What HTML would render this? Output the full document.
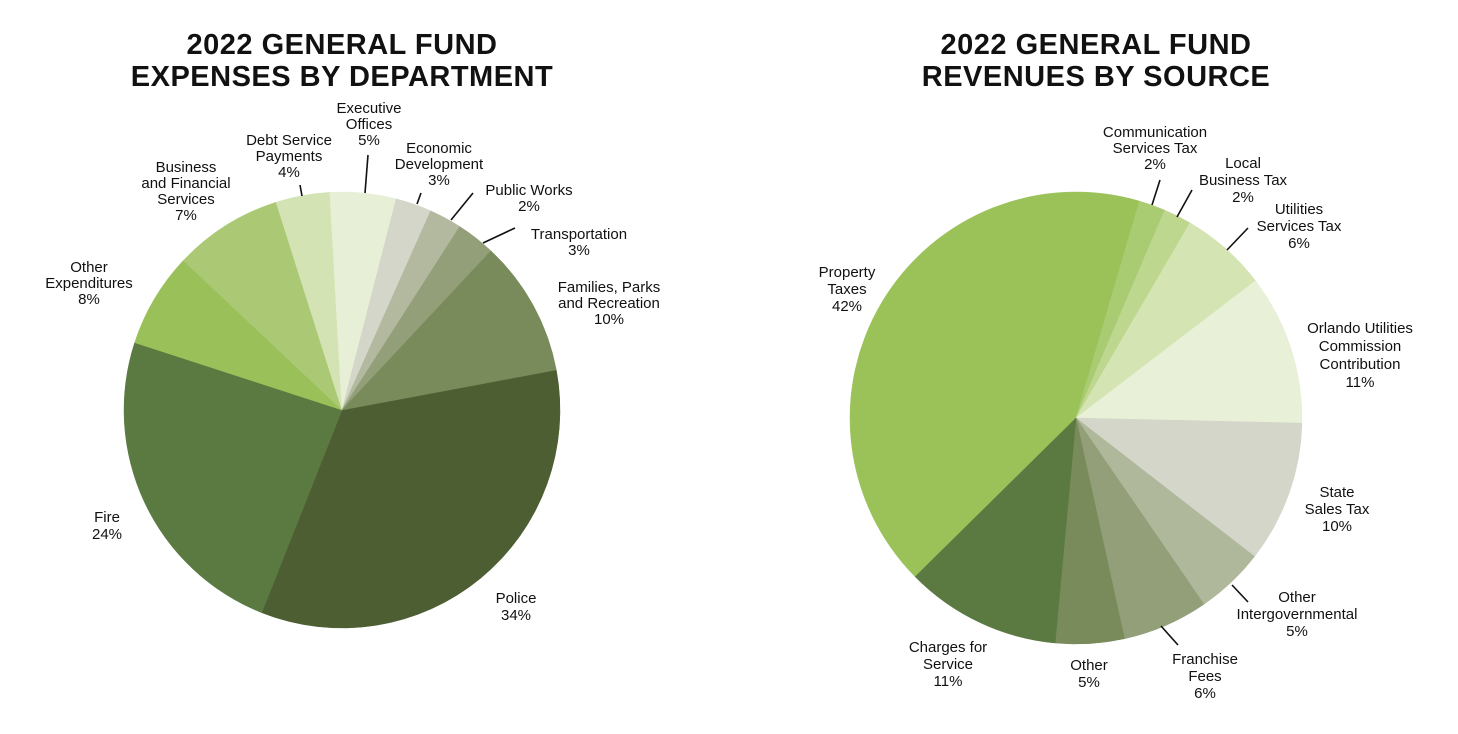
<!DOCTYPE html>
<html><head><meta charset="utf-8"><style>
html,body{margin:0;padding:0;background:#fff;}
svg{display:block;}
text{font-family:"Liberation Sans",sans-serif;font-size:15px;fill:#111;}
.t{font-size:29px;font-weight:bold;letter-spacing:0.5px;}
</style></head><body>
<svg id="s" width="1458" height="734" viewBox="0 0 1458 734" xmlns="http://www.w3.org/2000/svg">
<g id="pies"></g>
<g stroke="#111" stroke-width="1.6">
<line x1="300" y1="185" x2="302" y2="196"/>
<line x1="368" y1="155" x2="365" y2="193"/>
<line x1="421" y1="193" x2="417" y2="204"/>
<line x1="473" y1="193" x2="451" y2="220"/>
<line x1="515" y1="228" x2="483" y2="243"/>
<line x1="1160" y1="180" x2="1152" y2="205"/>
<line x1="1192" y1="190" x2="1177" y2="217"/>
<line x1="1248" y1="228" x2="1227" y2="250"/>
<line x1="1232" y1="585" x2="1248" y2="602"/>
<line x1="1161" y1="626" x2="1178" y2="645"/>
</g>
<g text-anchor="middle">
<text class="t" x="342" y="54">2022 GENERAL FUND</text>
<text class="t" x="342" y="86">EXPENSES BY DEPARTMENT</text>
<text class="t" x="1096" y="54">2022 GENERAL FUND</text>
<text class="t" x="1096" y="86">REVENUES BY SOURCE</text>

<text x="369" y="113">Executive</text><text x="369" y="129">Offices</text><text x="369" y="145">5%</text>
<text x="289" y="145">Debt Service</text><text x="289" y="161">Payments</text><text x="289" y="177">4%</text>
<text x="186" y="172">Business</text><text x="186" y="188">and Financial</text><text x="186" y="204">Services</text><text x="186" y="220">7%</text>
<text x="439" y="153">Economic</text><text x="439" y="169">Development</text><text x="439" y="185">3%</text>
<text x="529" y="195">Public Works</text><text x="529" y="211">2%</text>
<text x="579" y="239">Transportation</text><text x="579" y="255">3%</text>
<text x="609" y="292">Families, Parks</text><text x="609" y="308">and Recreation</text><text x="609" y="324">10%</text>
<text x="89" y="272">Other</text><text x="89" y="288">Expenditures</text><text x="89" y="304">8%</text>
<text x="107" y="522">Fire</text><text x="107" y="539">24%</text>
<text x="516" y="603">Police</text><text x="516" y="620">34%</text>

<text x="1155" y="137">Communication</text><text x="1155" y="153">Services Tax</text><text x="1155" y="169">2%</text>
<text x="1243" y="168">Local</text><text x="1243" y="185">Business Tax</text><text x="1243" y="202">2%</text>
<text x="1299" y="214">Utilities</text><text x="1299" y="231">Services Tax</text><text x="1299" y="248">6%</text>
<text x="1360" y="333">Orlando Utilities</text><text x="1360" y="351">Commission</text><text x="1360" y="369">Contribution</text><text x="1360" y="387">11%</text>
<text x="1337" y="497">State</text><text x="1337" y="514">Sales Tax</text><text x="1337" y="531">10%</text>
<text x="1297" y="602">Other</text><text x="1297" y="619">Intergovernmental</text><text x="1297" y="636">5%</text>
<text x="1205" y="664">Franchise</text><text x="1205" y="681">Fees</text><text x="1205" y="698">6%</text>
<text x="1089" y="670">Other</text><text x="1089" y="687">5%</text>
<text x="948" y="652">Charges for</text><text x="948" y="669">Service</text><text x="948" y="686">11%</text>
<text x="847" y="277">Property</text><text x="847" y="294">Taxes</text><text x="847" y="311">42%</text>
</g>
</svg>
<script>
(function(){
var g=document.getElementById('pies');var NS='http://www.w3.org/2000/svg';
function pie(cx,cy,r,start,ends,cols){
 var a0=start;
 for(var i=0;i<ends.length;i++){
  var a1=ends[i];var r0=a0*Math.PI/180,r1=a1*Math.PI/180;
  var x0=cx+r*Math.cos(r0),y0=cy+r*Math.sin(r0),x1=cx+r*Math.cos(r1),y1=cy+r*Math.sin(r1);
  var large=(a1-a0)>180?1:0;
  var p=document.createElementNS(NS,'path');
  p.setAttribute('d','M'+cx+','+cy+'L'+x0.toFixed(2)+','+y0.toFixed(2)+'A'+r+','+r+' 0 '+large+' 1 '+x1.toFixed(2)+','+y1.toFixed(2)+'Z');
  p.setAttribute('fill',cols[i]);p.setAttribute('stroke',cols[i]);p.setAttribute('stroke-width','0.5');
  g.appendChild(p);a0=a1;
 }
}
pie(342,410,218,-10.6,[111.6,198,223.3,252.4,266.8,284.4,294,302.7,313.1,349.4],
 ['#4e5e33','#5b7a42','#9ac05a','#abc975','#d4e3b3','#e7efd6','#d3d6c8','#b3b99e','#939f79','#798b5a']);
pie(1076,418,226,135.4,[286.3,293.1,300.3,322.6,361.3,397.8,415.5,437.6,455.3,495.4],
 ['#9ac258','#a9cb72','#bdd78e','#d4e4b3','#e8f0d8','#d3d6c8','#b0b89c','#939f79','#798b5a','#5b7a42']);
})();
</script>
</body></html>
